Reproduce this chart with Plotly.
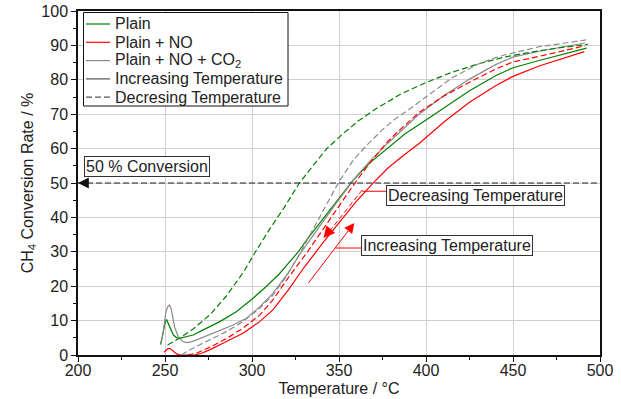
import plotly.graph_objects as go

# ---------------- data ----------------
plain_inc_T = [247.5, 248.3, 249.2, 250.2, 251.0, 252.0, 253.2, 254.8, 256.8, 259.0, 262.0, 266.2, 272.0, 281.5, 291.0, 300.6, 308.2, 315.9, 320.6, 326.3, 332.0, 338.8, 348.3, 357.8, 367.4, 377.9, 388.0, 400.0, 410.0, 425.0, 440.0, 450.0, 465.0, 480.0, 492.3]
plain_inc_Y = [3.0, 4.8, 7.5, 9.8, 10.2, 9.0, 7.2, 5.8, 5.0, 4.9, 5.3, 5.8, 7.3, 9.7, 12.6, 16.5, 19.9, 23.7, 26.5, 29.8, 33.8, 38.3, 44.6, 50.6, 55.7, 60.1, 64.3, 68.3, 71.8, 76.8, 81.2, 83.5, 85.6, 87.6, 89.2]

plain_dec_T = [251.5, 258, 266, 276, 285, 295, 302, 310, 318, 327, 335, 343, 352, 361, 371, 386, 400, 415, 430, 445, 460, 475, 493]
plain_dec_Y = [2.9, 4.8, 7.5, 11.8, 17.0, 24.0, 30.0, 36.5, 42.5, 49.8, 55.0, 60.0, 64.2, 68.0, 71.5, 76.0, 79.2, 82.2, 84.6, 86.6, 88.0, 89.2, 90.3]

no_inc_T = [249.5, 250.5, 251.5, 252.5, 253.5, 255, 256.5, 258.6, 263, 267, 271, 275.7, 285.3, 294.8, 304.4, 312, 321, 330, 340.6, 350, 359.7, 370, 378, 387, 396, 411, 425, 440, 450, 465, 480, 491]
no_inc_Y = [0.8, 1.4, 1.8, 1.9, 1.7, 1.0, 0.4, 0.0, 0.0, 0.0, 0.5, 1.5, 3.9, 6.3, 9.7, 13.1, 19.0, 25.5, 32.5, 38.5, 44.5, 50.2, 54.3, 58.0, 61.5, 68.0, 73.5, 78.3, 81.0, 84.0, 86.5, 88.2]

no_dec_T = [263, 268, 276, 285.3, 294.8, 304.4, 312, 320.6, 331.2, 340, 348.3, 359.7, 368, 377.9, 382.7, 396, 410, 425, 440, 450, 465, 480, 491.4]
no_dec_Y = [0.0, 0.5, 2.3, 4.8, 7.8, 11.6, 16.0, 22.3, 29.5, 36.0, 42.2, 50.4, 56.0, 62.0, 64.4, 70.5, 75.2, 79.3, 83.1, 85.2, 86.8, 88.6, 89.9]

co2_inc_T = [247.3, 248.0, 248.8, 249.6, 250.5, 251.5, 252.5, 253.5, 254.5, 255.6, 257.6, 260.0, 262.4, 265.0, 268.2, 277.7, 289.1, 296.8, 304.4, 312.0, 320.6, 327.3, 336.0, 348.3, 359.7, 368.0, 377.9, 382.7, 396.0, 410.0, 425.0, 440.0, 450.0, 465.0, 480.0, 491.4]
co2_inc_Y = [3.5, 4.2, 6.0, 10.0, 12.5, 14.0, 14.5, 13.5, 11.0, 8.0, 5.3, 4.0, 3.6, 3.8, 4.4, 6.3, 8.7, 10.7, 14.0, 17.9, 23.7, 29.2, 35.5, 44.1, 51.8, 56.5, 61.5, 63.7, 70.0, 75.3, 80.2, 84.4, 86.6, 88.3, 89.7, 90.7]

co2_dec_T = [259.5, 264.3, 270, 275.7, 285.3, 294.8, 304.4, 312, 320, 327, 335, 343, 350, 358, 366, 375, 382, 390, 400, 415, 430, 442, 450, 465, 480, 492]
co2_dec_Y = [0.0, 1.5, 3.0, 4.4, 6.8, 9.7, 13.6, 17.4, 23.0, 29.0, 36.5, 44.0, 50.4, 56.5, 61.0, 65.5, 68.5, 71.3, 75.0, 80.6, 84.6, 86.8, 87.8, 89.6, 90.7, 91.6]

x_ticks = [200, 250, 300, 350, 400, 450, 500]
y_ticks = [0, 10, 20, 30, 40, 50, 60, 70, 80, 90, 100]
conversion_level = 50

legend_labels = ["Plain", "Plain + NO", "Plain + NO + CO<sub>2</sub>",
                 "Increasing Temperature", "Decresing Temperature"]

# ---------------- styles ----------------
FONT = "Arial, Liberation Sans, sans-serif"
TXT = "#222222"
GREEN, RED, GREY, DGREY = "#008000", "#ff0000", "#8c8c8c", "#555555"
DASH = "6px,3px"
LW = 1.2
W, H = 621, 399
ML, MR, MT, MB = 78, 21, 11, 44
PW, PH = W - ML - MR, H - MT - MB


def px_x(p):  # pixel -> paper x
    return (p - ML) / PW


def px_y(p):  # pixel -> paper y
    return (H - MB - p) / PH


fig = go.Figure()
series = [
    (plain_inc_T, plain_inc_Y, GREEN, "solid", legend_labels[0]),
    (no_inc_T, no_inc_Y, RED, "solid", legend_labels[1]),
    (co2_inc_T, co2_inc_Y, GREY, "solid", legend_labels[2]),
    (plain_dec_T, plain_dec_Y, GREEN, DASH, legend_labels[0] + " (decreasing)"),
    (no_dec_T, no_dec_Y, RED, DASH, legend_labels[1] + " (decreasing)"),
    (co2_dec_T, co2_dec_Y, GREY, DASH, legend_labels[2] + " (decreasing)"),
]
for xs, ys, c, d, name in series:
    fig.add_trace(go.Scatter(x=xs, y=ys, mode="lines", name=name, showlegend=False,
                             line=dict(color=c, width=LW, dash=d)))

# 50 % conversion line
fig.add_shape(type="line", xref="x", yref="y", x0=x_ticks[0], x1=x_ticks[-1],
              y0=conversion_level, y1=conversion_level,
              line=dict(color="#222", width=1, dash=DASH))
fig.add_annotation(x=x_ticks[0], y=conversion_level, ax=x_ticks[0] + 7, ay=conversion_level,
                   axref="x", ayref="y", xref="x", yref="y", text="", showarrow=True,
                   arrowhead=2, arrowsize=1.8, arrowwidth=1.2, arrowcolor="#111")

box = dict(font=dict(family=FONT, size=16, color=TXT), bordercolor="#333", borderwidth=1,
           bgcolor="white", borderpad=1, showarrow=False, xref="x", yref="y",
           xanchor="left", yanchor="top")
fig.add_annotation(x=203.6, y=57.8, text="50 % Conversion", **box)
fig.add_annotation(x=377.2, y=49.4, text="Decreasing Temperature", **box)
fig.add_annotation(x=362.8, y=34.8, text="Increasing Temperature", **box)

# arrows / leader lines for the hysteresis callouts
fig.add_shape(type="line", xref="x", yref="y", x0=363.4, y0=47.6, x1=377.2, y1=47.6,
              line=dict(color=RED, width=1))
fig.add_shape(type="line", xref="x", yref="y", x0=363.4, y0=48.0, x1=343.0, y1=35.0,
              line=dict(color=RED, width=1, dash="5px,3px"))
fig.add_annotation(x=341.1, y=34.0, ax=346.0, ay=37.0, axref="x", ayref="y", xref="x", yref="y",
                   text="", showarrow=True, arrowhead=2, arrowsize=1.9, arrowwidth=1.2,
                   arrowcolor=RED)
fig.add_shape(type="line", xref="x", yref="y", x0=347.9, y0=31.1, x1=362.8, y1=31.1,
              line=dict(color=RED, width=1))
fig.add_annotation(x=358.8, y=38.4, ax=331.9, ay=20.6, axref="x", ayref="y", xref="x", yref="y",
                   text="", showarrow=True, arrowhead=2, arrowsize=2.0, arrowwidth=1.0,
                   arrowcolor=RED)

# legend box (drawn as a framed key, matching the reference layout)
fig.add_shape(type="rect", xref="paper", yref="paper", layer="above",
              x0=px_x(83.5), x1=px_x(288), y0=px_y(106), y1=px_y(12.5),
              line=dict(color="#111", width=1), fillcolor="white")
key_styles = [(GREEN, "solid"), (RED, "solid"), (GREY, "solid"), (DGREY, "solid"), (DGREY, DASH)]
for i, (lab, (c, d)) in enumerate(zip(legend_labels, key_styles)):
    yy = px_y(24 + i * 18.3)
    fig.add_shape(type="line", xref="paper", yref="paper", layer="above",
                  x0=px_x(86), x1=px_x(110), y0=yy, y1=yy, line=dict(color=c, width=LW, dash=d))
    fig.add_annotation(x=px_x(113), y=yy, xref="paper", yref="paper", text=lab,
                       showarrow=False, xanchor="left", yanchor="middle",
                       font=dict(family=FONT, size=16, color=TXT))

axis_common = dict(showline=True, linecolor="#111", linewidth=1.5, mirror=True,
                   gridcolor="#d0d0d0", gridwidth=1, zeroline=False,
                   ticks="outside", ticklen=5, tickwidth=1, tickcolor="#111",
                   tickfont=dict(family=FONT, size=16, color=TXT))
fig.update_xaxes(range=[x_ticks[0], x_ticks[-1]], tickvals=x_ticks, ticklabelstandoff=-5,
                 minor=dict(ticks="outside", ticklen=3, dtick=25, tickcolor="#111", showgrid=False),
                 title=dict(text="Temperature / °C", font=dict(family=FONT, size=16, color=TXT),
                            standoff=5),
                 **axis_common)
fig.update_yaxes(range=[y_ticks[0], y_ticks[-1]], tickvals=y_ticks,
                 minor=dict(ticks="outside", ticklen=3, dtick=5, tickcolor="#111", showgrid=False),
                 title=dict(text="CH<sub>4</sub> Conversion Rate / %",
                            font=dict(family=FONT, size=16, color=TXT), standoff=4),
                 **axis_common)

fig.update_layout(
    width=W, height=H,
    margin=dict(l=ML, r=MR, t=MT, b=MB, autoexpand=False),
    paper_bgcolor="white", plot_bgcolor="white",
    font=dict(family=FONT, size=16, color=TXT),
    showlegend=False,
)
fig.write_html("out.html")
